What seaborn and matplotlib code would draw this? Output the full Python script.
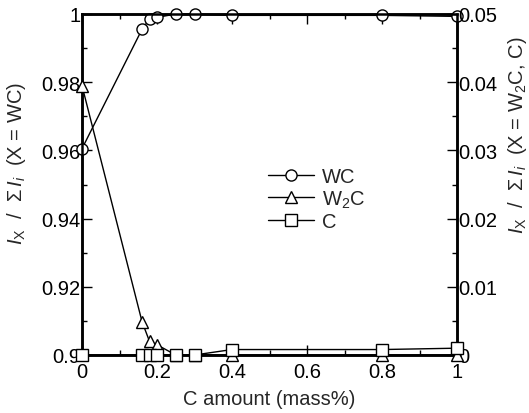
import matplotlib
matplotlib.use("Agg")
import matplotlib.pyplot as plt
import seaborn as sns
import pandas as pd
from matplotlib.ticker import MultipleLocator
from matplotlib.lines import Line2D

sns.set_theme(style="white")
plt.rcParams['font.family'] = ['Liberation Sans', 'DejaVu Sans']
plt.rcParams['mathtext.fontset'] = 'custom'
plt.rcParams['mathtext.rm'] = 'Liberation Sans'
plt.rcParams['mathtext.it'] = 'Liberation Sans:italic'
plt.rcParams['mathtext.bf'] = 'Liberation Sans:bold'

# Data
c_amount = [0.0, 0.16, 0.18, 0.20, 0.25, 0.30, 0.40, 0.80, 1.00]
wc = [0.9605, 0.9955, 0.9985, 0.9990, 1.0000, 1.0000, 0.9996, 0.9996, 0.9993]
w2c = [0.0395, 0.0049, 0.0020, 0.0015, 0.0, 0.0, 0.0, 0.0, 0.0]
c_phase = [0.0, 0.0, 0.0, 0.0, 0.0, 0.0, 0.0008, 0.0008, 0.0010]

x_ticks = [0, 0.2, 0.4, 0.6, 0.8, 1.0]
x_ticklabels = ['0', '0.2', '0.4', '0.6', '0.8', '1']
left_ticks = [0.90, 0.92, 0.94, 0.96, 0.98, 1.00]
left_ticklabels = ['0.9', '0.92', '0.94', '0.96', '0.98', '1']
right_ticks = [0, 0.01, 0.02, 0.03, 0.04, 0.05]
right_ticklabels = ['0', '0.01', '0.02', '0.03', '0.04', '0.05']

df = pd.DataFrame({'x': c_amount, 'WC': wc, 'W2C': w2c, 'C': c_phase})

FS = 14.5
fig = plt.figure(figsize=(5.29, 4.14), dpi=100)
ax = fig.add_axes([82/529, 58/414, 375/529, 341/414])
ax2 = ax.twinx()

mk = dict(color='black', lw=1.0, markersize=8, markerfacecolor='white',
          markeredgecolor='black', markeredgewidth=1.0, clip_on=False)

sns.lineplot(data=df, x='x', y='WC', ax=ax, marker='o', **mk, zorder=3)
sns.lineplot(data=df, x='x', y='W2C', ax=ax2, marker='^', **mk, zorder=3)
sns.lineplot(data=df, x='x', y='C', ax=ax2, marker='s', **mk, zorder=4)

ax.set_xlim(0, 1)
ax.set_ylim(0.9, 1.0)
ax2.set_ylim(0, 0.05)

ax.set_xticks(x_ticks)
ax.set_xticklabels(x_ticklabels)
ax.set_yticks(left_ticks)
ax.set_yticklabels(left_ticklabels)
ax2.set_yticks(right_ticks)
ax2.set_yticklabels(right_ticklabels)
ax.xaxis.set_minor_locator(MultipleLocator(0.1))
ax.yaxis.set_minor_locator(MultipleLocator(0.01))
ax2.yaxis.set_minor_locator(MultipleLocator(0.005))

ax.tick_params(axis='x', which='both', direction='in', top=True, bottom=True,
               labelsize=FS, pad=5, colors='black')
ax.tick_params(axis='y', which='both', direction='in', left=True, right=False,
               labelsize=FS, pad=1, colors='black')
ax2.tick_params(axis='y', which='both', direction='in', right=True, left=False,
                labelsize=FS, pad=1, colors='black')
for a in (ax, ax2):
    a.tick_params(which='major', length=7, width=1.0)
    a.tick_params(which='minor', length=3.5, width=1.0)
    for s in a.spines.values():
        s.set_linewidth(1.8)
        s.set_color('black')
    a.grid(False)

ax.set_xlabel('C amount (mass%)', fontsize=FS, labelpad=6)
ax.set_ylabel(r'$I_\mathrm{X}$  /  $\mathit{\Sigma}\,I_i$  (X = WC)', fontsize=FS)
ax.yaxis.set_label_coords(-0.144, 0.565)
ax2.set_ylabel(r'$I_\mathrm{X}$  /  $\mathit{\Sigma}\,I_i$  (X = W$_2$C, C)', fontsize=FS,
               rotation=90)
ax2.yaxis.set_label_coords(1.131, 0.648)

handles = [
    Line2D([], [], color='black', lw=1.0, marker='o', markersize=8,
           markerfacecolor='white', markeredgecolor='black'),
    Line2D([], [], color='black', lw=1.0, marker='^', markersize=8,
           markerfacecolor='white', markeredgecolor='black'),
    Line2D([], [], color='black', lw=1.0, marker='s', markersize=8,
           markerfacecolor='white', markeredgecolor='black'),
]
ax2.legend(handles, ['WC', r'W$_2$C', 'C'], loc='center left',
           bbox_to_anchor=(0.496, 0.457), frameon=False, fontsize=FS,
           borderpad=0, borderaxespad=0, labelspacing=0.1, handlelength=2.3,
           handletextpad=0.4)

fig.savefig('out.png', dpi=100)
